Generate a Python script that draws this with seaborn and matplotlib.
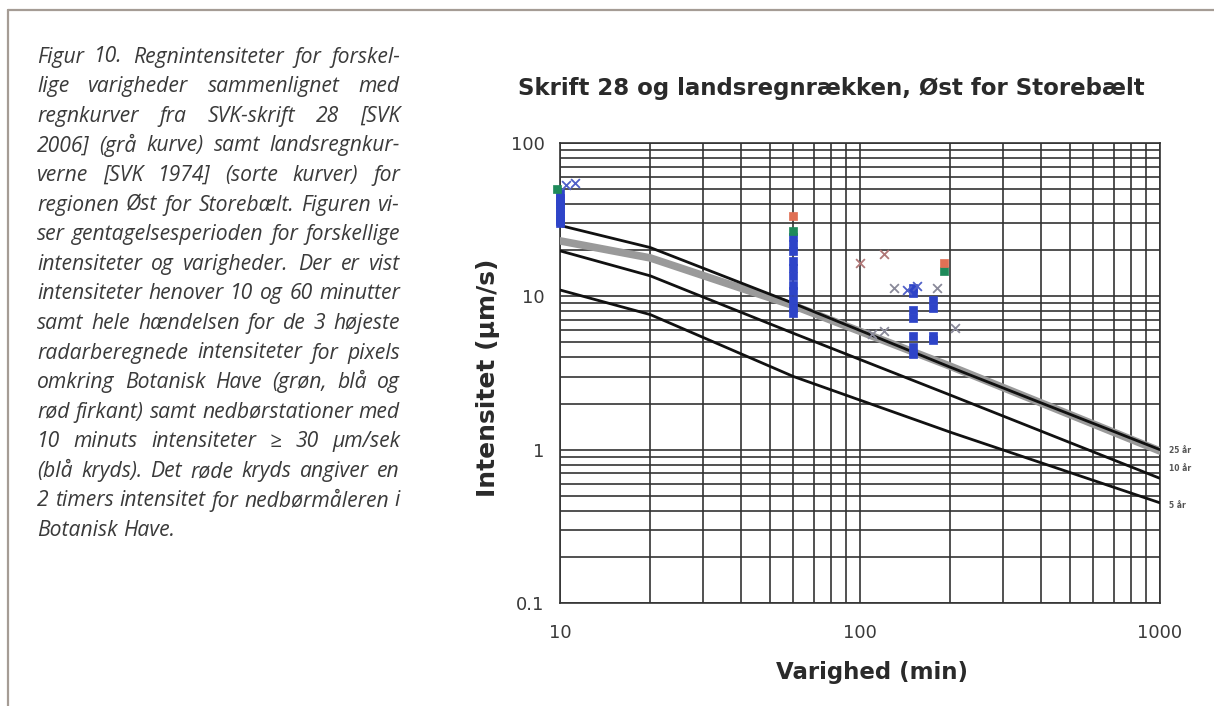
import numpy as np
import pandas as pd
import matplotlib
matplotlib.use("Agg")
import matplotlib.pyplot as plt
import seaborn as sns
from matplotlib.lines import Line2D

# ---------------- data ----------------
curve_dur = [10, 20, 60, 200, 1000]
grey_skrift28 = [23.0, 17.8, 8.7, 3.5, 0.98]
black_top = [29.0, 20.8, 9.0, 3.45, 1.0]
black_mid = [19.8, 13.6, 5.74, 2.27, 0.65]
black_low = [11.0, 7.6, 3.0, 1.3, 0.45]

blue_sq_dur = [10] * 10 + [60] * 11 + [150] * 7 + [175] * 4
blue_sq_val = [47, 44, 42, 40, 38, 36, 34, 32, 31, 30,
               24.2, 21.9, 19.8, 17.0, 15.4, 13.5, 11.9, 10.8, 9.5, 8.4, 7.8,
               11.3, 10.5, 8.2, 7.2, 5.5, 4.7, 4.2,
               9.5, 8.4, 5.5, 5.2]
green_sq_dur = [9.8, 60, 190]
green_sq_val = [50, 26.8, 14.6]
red_sq_dur = [60, 190]
red_sq_val = [33.6, 16.6]
blue_x_dur = [10.5, 11.2, 143, 155]
blue_x_val = [53, 55, 11.0, 11.6]
grey_x_dur = [110, 120, 130, 180, 207]
grey_x_val = [5.7, 5.9, 11.3, 11.4, 6.2]
red_x_dur = [100, 120]
red_x_val = [16.6, 18.9]

x_ticks = [10, 100, 1000]
x_tick_labels = ["10", "100", "1000"]
y_ticks = [0.1, 1, 10, 100]
y_tick_labels = ["0.1", "1", "10", "100"]

end_labels = ["25 år", "10 år", "5 år"]
end_label_vals = [0.99, 0.75, 0.43]

title = "Skrift 28 og landsregnrækken, Øst for Storebælt"
x_label = "Varighed (min)"
y_label = "Intensitet (µm/s)"

caption_lines = [
    "Figur 10. Regnintensiteter for forskel-",
    "lige varigheder sammenlignet med",
    "regnkurver fra SVK-skrift 28 [SVK",
    "2006] (grå kurve) samt landsregnkur-",
    "verne [SVK 1974] (sorte kurver) for",
    "regionen Øst for Storebælt. Figuren vi-",
    "ser gentagelsesperioden for forskellige",
    "intensiteter og varigheder. Der er vist",
    "intensiteter henover 10 og 60 minutter",
    "samt hele hændelsen for de 3 højeste",
    "radarberegnede intensiteter for pixels",
    "omkring Botanisk Have (grøn, blå og",
    "rød firkant) samt nedbørstationer med",
    "10 minuts intensiteter ≥ 30 µm/sek",
    "(blå kryds). Det røde kryds angiver en",
    "2 timers intensitet for nedbørmåleren i",
    "Botanisk Have.",
]

# ---------------- figure ----------------
sns.set_style("white")
plt.rcParams["font.family"] = ["DejaVu Sans"]

W, H = 1214, 706
fig = plt.figure(figsize=(W / 100, H / 100), dpi=100)
fig.patch.set_facecolor("white")

L, R, T, B = 560, 1160, 143, 603
ax = fig.add_axes([L / W, 1 - B / H, (R - L) / W, (B - T) / H])
ax.set_xscale("log")
ax.set_yscale("log")

curves = pd.DataFrame({
    "dur": curve_dur * 3,
    "val": black_top + black_mid + black_low,
    "curve": ["top"] * 5 + ["mid"] * 5 + ["low"] * 5,
})
grey_df = pd.DataFrame({"dur": curve_dur, "val": grey_skrift28})

sns.lineplot(data=grey_df, x="dur", y="val", color="#9a9a9a", lw=5.5,
             ax=ax, zorder=3, legend=False)
sns.lineplot(data=curves, x="dur", y="val", hue="curve",
             palette=["#111111"] * 3, lw=2.0, ax=ax, zorder=4, legend=False,
             estimator=None)

def sq(d, v, c, s=40):
    sns.scatterplot(x=d, y=v, marker="s", color=c, s=s, edgecolor=c,
                    linewidth=0.5, ax=ax, zorder=6, legend=False,
                    clip_on=False)

def xx(d, v, c, s=40):
    sns.scatterplot(x=d, y=v, marker="x", color=c, s=s, linewidth=1.3,
                    ax=ax, zorder=6, legend=False, clip_on=False)

sq(blue_sq_dur, blue_sq_val, "#2e44c8")
xx(blue_x_dur, blue_x_val, "#5060c8")
xx(grey_x_dur, grey_x_val, "#8a8a9a")
xx(red_x_dur, red_x_val, "#b07878")
sq(green_sq_dur, green_sq_val, "#1e8a5a")
sq(red_sq_dur, red_sq_val, "#e07055")

ax.set_xlim(10, 1000)
ax.set_ylim(0.1, 100)
ax.grid(True, which="both", color="#333333", lw=1.2)
ax.set_axisbelow(True)
for sp in ax.spines.values():
    sp.set_color("#333333")
    sp.set_linewidth(1.2)

ax.set_xticks(x_ticks)
ax.set_xticklabels(x_tick_labels)
ax.set_yticks(y_ticks)
ax.set_yticklabels(y_tick_labels)
ax.tick_params(which="both", direction="out", color="#333333",
               labelcolor="#3a3a3a", labelsize=13)
ax.tick_params(which="major", length=5, width=1.0, pad=10)
ax.tick_params(which="minor", length=4, width=1.0)
ax.tick_params(axis="y", which="minor", length=0)
ax.tick_params(axis="y", which="major", pad=6)

ax.set_xlabel(x_label, fontsize=16.5, fontweight="bold", color="#2a2a2a")
ax.xaxis.set_label_coords(0.52, -0.125)
ax.set_ylabel(y_label, fontsize=18, fontweight="bold", color="#2a2a2a")
ax.yaxis.set_label_coords(-0.10, 0.49)

fig.text(831 / W, 1 - 88 / H, title, fontsize=16.5, fontweight="bold",
         color="#2a2a2a", ha="center", va="center")

for lab, v in zip(end_labels, end_label_vals):
    ax.text(1.015, v, lab, transform=ax.get_yaxis_transform(),
            fontsize=5.5, fontweight="bold", color="#555555",
            va="center", ha="left")

# frame of the page
fig.add_artist(Line2D([8 / W, 1.0], [1 - 10 / H, 1 - 10 / H],
                      color="#a59c95", lw=1.6, transform=fig.transFigure))
fig.add_artist(Line2D([8 / W, 8 / W], [1 - 10 / H, 0.0],
                      color="#a59c95", lw=1.6, transform=fig.transFigure))

# justified italic caption
renderer = fig.canvas.get_renderer()
x0, x1 = 37, 400
fam = ["Open Sans", "DejaVu Sans"]
for i, line in enumerate(caption_lines):
    words = line.split()
    y = 1 - (57 + i * 29.6) / H
    texts = [fig.text(0, y, w, fontsize=15.2, style="italic", family=fam,
                      color="#3a3a3a", va="center", ha="left")
             for w in words]
    widths = [t.get_window_extent(renderer).width for t in texts]
    last = (i == len(caption_lines) - 1)
    if not last and len(words) > 1:
        gap = (x1 - x0 - sum(widths)) / (len(words) - 1)
    else:
        gap = 5.5
    x = x0
    for t, w in zip(texts, widths):
        t.set_x(x / W)
        x += w + gap

fig.savefig("out.png", dpi=100, facecolor="white")
